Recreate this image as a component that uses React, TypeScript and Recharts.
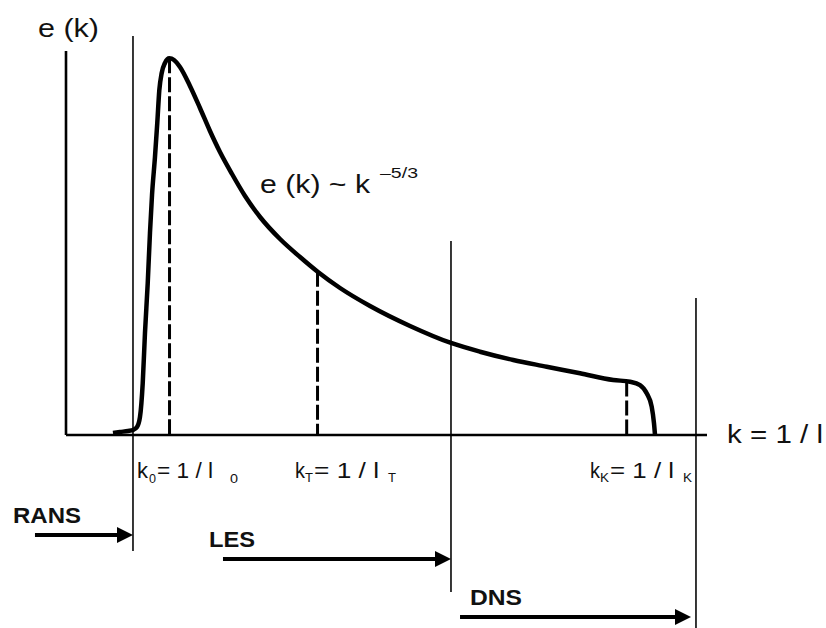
import React from 'react';
import { LineChart, Line, XAxis, YAxis, ReferenceLine, ReferenceDot } from 'recharts';

// energy spectrum e(k) (k and e in 0..100 plot units)
const curveK = [
  7.33, 8.42, 9.67, 10.45, 11.08, 11.54, 11.97, 12.32, 12.75, 13.1, 13.42, 13.88, 14.24, 14.56,
  14.93, 15.44, 16.12, 16.85, 17.78, 19.34, 20.9, 22.46, 24.02, 25.9, 27.93, 30.27, 33.39, 36.51,
  39.31, 42.75, 47.43, 53.67, 60.06, 64.59, 69.78, 74.99, 80.19, 85.38, 87.99, 89.55, 90.59,
  91.37, 91.73, 91.89,
];
const curveE = [
  0.52, 0.78, 1.04, 1.3, 2.08, 4.69, 13.54, 26.56, 39.58, 52.6, 62.5, 72.4, 81.25, 89.84,
  94.27, 96.88, 98.1, 97.66, 95.83, 90.89, 85.16, 79.17, 73.7, 67.97, 62.24, 56.77, 51.04, 46.35,
  42.45, 38.28, 33.59, 28.39, 23.96, 21.69, 19.53, 17.79, 16.07, 14.32, 13.88, 13.02, 10.86,
  7.37, 3.05, 0,
];

// characteristic wavenumbers k0, kT, kK (dashed drops)
const markerK = [16.15, 39.24, 87.47];
const markerE = [98.1, 42.5, 13.9];
const markerSub = ['0', 'T', 'K'];

// RANS | LES | DNS resolution limits (thin vertical lines)
const cutoffK = [10.45, 60.06, 98.28];
const cutoffTop = [103.9, 50.5, 35.7];
const cutoffBottom = [-30.2, -40.9, -50.3];

// method arrows
const methods = ['RANS', 'LES', 'DNS'];
const arrowFrom = [-4.84, 24.49, 61.47];
const arrowTo = [10.45, 60.06, 97.5];
const arrowE = [-26.04, -32.29, -47.4];

const spectrum = curveK.map((k, i) => ({ k, e: curveE[i] }));

const FONT = '"Liberation Sans", Arial, Helvetica, sans-serif';

type Piece = { t: string; dx: number; dy?: number; size: number; len: number; bold?: boolean };

function textGroup(pieces: Piece[]) {
  return (props: any) => {
    const vb = props.viewBox || {};
    const x0 = vb.x ?? 0;
    const y0 = vb.y ?? 0;
    return (
      <g>
        {pieces.map((p, i) => (
          <text
            key={i}
            x={x0 + p.dx}
            y={y0 + (p.dy || 0)}
            fontSize={p.size}
            fontFamily={FONT}
            fontWeight={p.bold ? 'bold' : 'normal'}
            fill="#111"
            textLength={p.len}
            lengthAdjust="spacingAndGlyphs"
          >
            {p.t}
          </text>
        ))}
      </g>
    );
  };
}

const arrowShape = (props: any) => {
  const { x1, y1, x2, y2 } = props;
  return (
    <g>
      <line x1={x1} y1={y1} x2={x2 - 14} y2={y2} stroke="#000" strokeWidth={4} />
      <polygon points={`${x2},${y2} ${x2 - 16},${y2 - 8} ${x2 - 16},${y2 + 8}`} fill="#000" />
    </g>
  );
};

// layout of the k_i = 1 / l_i labels
const kLabelPieces: Piece[][] = [
  [
    { t: 'k', dx: 0, size: 22, len: 11 },
    { t: markerSub[0], dx: 12, dy: 5, size: 13, len: 7 },
    { t: '= 1 / l', dx: 20, size: 22, len: 56 },
    { t: markerSub[0], dx: 93, dy: 5, size: 13, len: 8 },
  ],
  [
    { t: 'k', dx: 0, size: 22, len: 10 },
    { t: markerSub[1], dx: 10, dy: 4, size: 13, len: 8 },
    { t: '= 1 / l', dx: 19, size: 22, len: 65 },
    { t: markerSub[1], dx: 93, dy: 4, size: 13, len: 8 },
  ],
  [
    { t: 'k', dx: 0, size: 22, len: 10 },
    { t: markerSub[2], dx: 10, dy: 4, size: 13, len: 9 },
    { t: '= 1 / l', dx: 20, size: 22, len: 64 },
    { t: markerSub[2], dx: 93, dy: 4, size: 13, len: 9 },
  ],
];
const kLabelK = [11.08, 35.73, 81.75];

const methodLabelK = [-8.27, 22.31, 63.03];
const methodLabelE = [-22.92, -29.17, -44.27];
const methodLabelLen = [68, 46, 52];

export default function App() {
  return (
    <div style={{ position: 'absolute', left: 0, top: 0, width: 826, height: 628, background: '#fff' }}>
      <LineChart
        width={826}
        height={628}
        data={spectrum}
        margin={{ top: 51, right: 119, bottom: 183, left: 56 }}
      >
        <XAxis
          type="number"
          dataKey="k"
          domain={[0, 100]}
          ticks={[]}
          tick={false}
          tickLine={false}
          height={10}
          axisLine={{ stroke: '#000', strokeWidth: 2.6 }}
        />
        <YAxis
          type="number"
          domain={[0, 100]}
          ticks={[]}
          tick={false}
          tickLine={false}
          width={10}
          axisLine={{ stroke: '#000', strokeWidth: 2.6 }}
        />

        {cutoffK.map((k, i) => (
          <ReferenceLine
            key={`cut${i}`}
            segment={[{ x: k, y: cutoffTop[i] }, { x: k, y: cutoffBottom[i] }]}
            stroke="#222"
            strokeWidth={1.8}
            ifOverflow="visible"
          />
        ))}

        {markerK.map((k, i) => (
          <ReferenceLine
            key={`mk${i}`}
            segment={[{ x: k, y: markerE[i] }, { x: k, y: 0 }]}
            stroke="#000"
            strokeWidth={3}
            strokeDasharray="15 4"
            ifOverflow="visible"
          />
        ))}

        <Line
          type="monotone"
          dataKey="e"
          stroke="#000"
          strokeWidth={4.5}
          dot={false}
          activeDot={false}
          isAnimationActive={false}
        />

        {methods.map((m, i) => (
          <ReferenceLine
            key={`ar${i}`}
            segment={[{ x: arrowFrom[i], y: arrowE[i] }, { x: arrowTo[i], y: arrowE[i] }]}
            shape={arrowShape}
            ifOverflow="visible"
          />
        ))}

        {methods.map((m, i) => (
          <ReferenceDot
            key={`ml${i}`}
            x={methodLabelK[i]}
            y={methodLabelE[i]}
            r={0}
            fill="none"
            stroke="none"
            ifOverflow="visible"
            label={textGroup([{ t: m, dx: 0, size: 22, len: methodLabelLen[i], bold: true }])}
          />
        ))}

        {kLabelPieces.map((pieces, i) => (
          <ReferenceDot
            key={`kl${i}`}
            x={kLabelK[i]}
            y={-11.2}
            r={0}
            fill="none"
            stroke="none"
            ifOverflow="visible"
            label={textGroup(pieces)}
          />
        ))}

        <ReferenceDot
          x={-4.37}
          y={103.65}
          r={0}
          fill="none"
          stroke="none"
          ifOverflow="visible"
          label={textGroup([{ t: 'e (k)', dx: 0, size: 25, len: 61 }])}
        />
        <ReferenceDot
          x={30.27}
          y={63.02}
          r={0}
          fill="none"
          stroke="none"
          ifOverflow="visible"
          label={textGroup([
            { t: 'e (k) ~ k', dx: 0, size: 25, len: 110 },
            { t: '\u20135/3', dx: 120, dy: -15, size: 15, len: 38 },
          ])}
        />
        <ReferenceDot
          x={103.12}
          y={-2.08}
          r={0}
          fill="none"
          stroke="none"
          ifOverflow="visible"
          label={textGroup([{ t: 'k = 1 / l', dx: 0, size: 26, len: 96 }])}
        />
      </LineChart>
    </div>
  );
}
